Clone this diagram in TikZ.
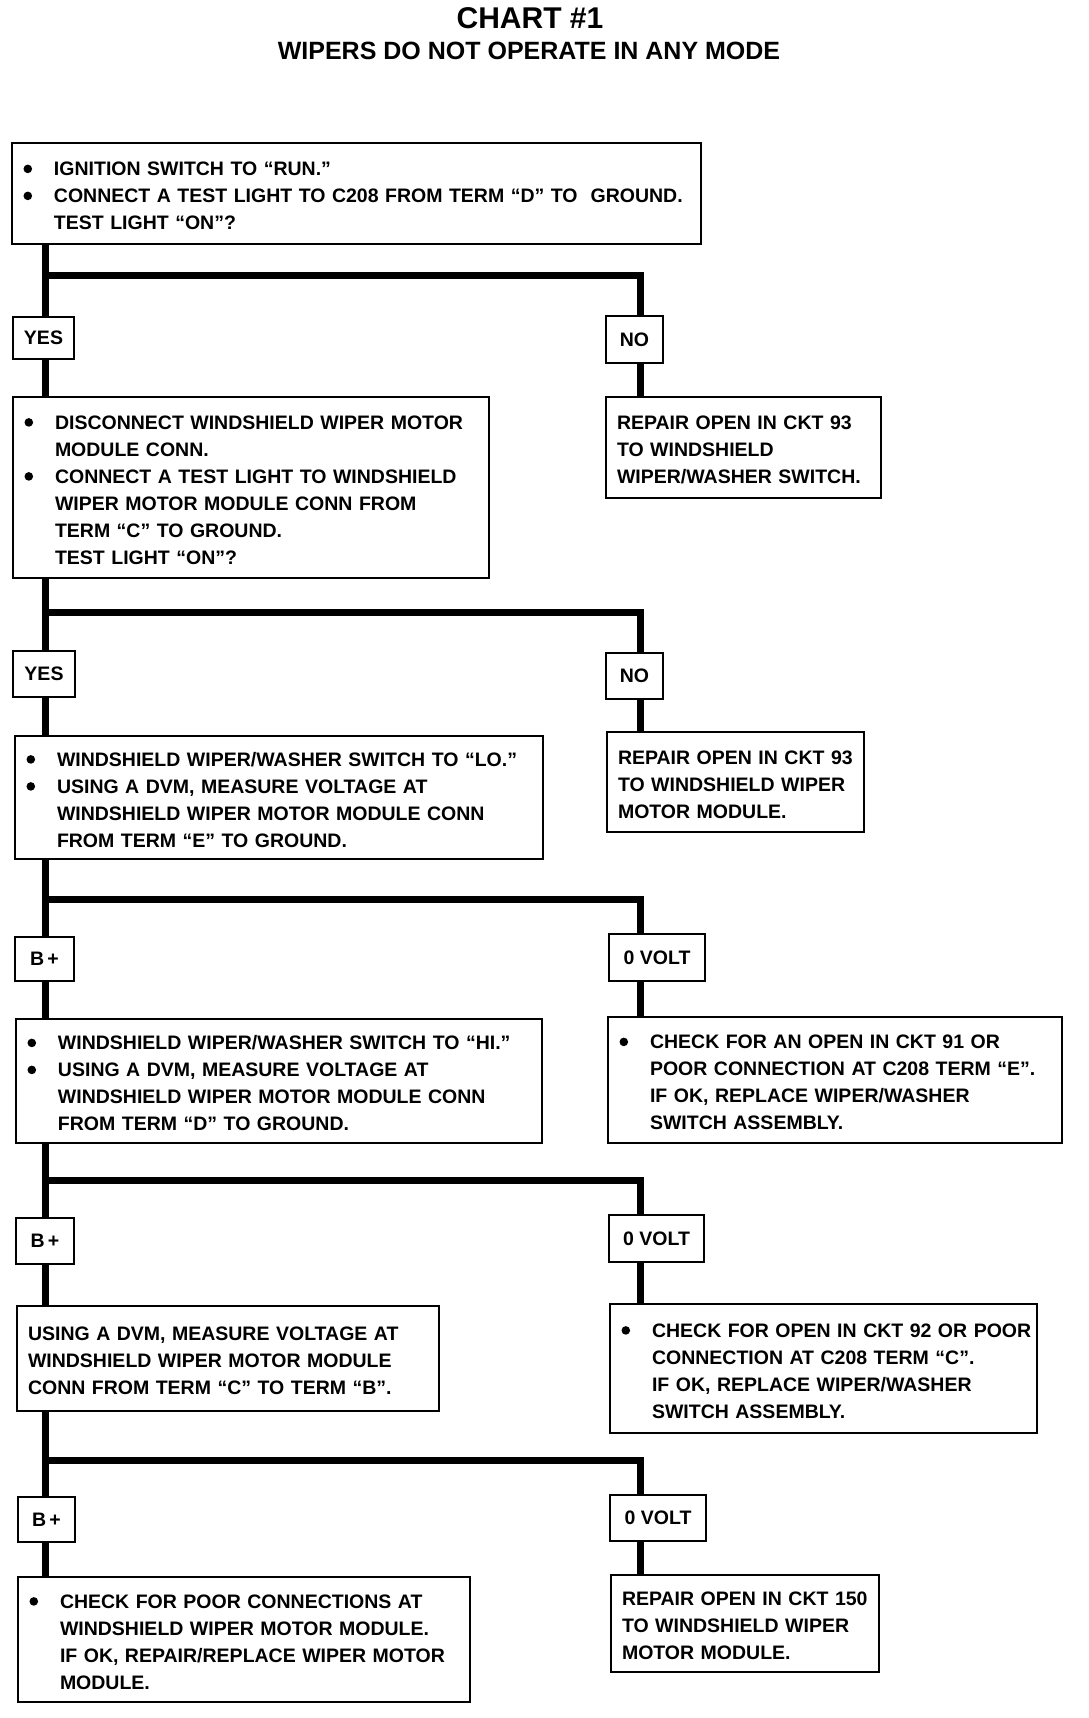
\documentclass[tikz,border=0pt]{standalone}
\usepackage{fontspec}
\setmainfont{Liberation Sans}
\usepackage{tikz}

\newcommand{\boxfont}{\fontsize{19.5}{27}\selectfont\bfseries}
\newcommand{\bul}{\makebox[31pt][l]{\hspace{0.5pt}\tikz[baseline=-7pt]\fill (4.3pt,0) circle (4.3pt);}}
\newcommand{\ind}{\hspace*{31pt}}
\newcommand{\boxlines}[1]{\raisebox{-4pt}[\height][\depth]{\begin{tabular}{@{}l@{}}#1\end{tabular}}}

\tikzset{
  box/.style={draw,line width=2pt,anchor=north west,align=left,inner xsep=11pt,inner ysep=0pt,font=\boxfont},
  lbl/.style={draw,line width=2pt,anchor=north west,align=center,inner sep=0pt,font=\boxfont},
  trunk/.style={line width=7pt},
}

\begin{document}
\begin{tikzpicture}[x=1pt,y=-1pt]
		\useasboundingbox (0,0) rectangle (1088,1718);
		% title
		\node[font=\fontsize{30}{30}\selectfont\bfseries] (title) at (530,18) {CHART \#1};
		\node[font=\fontsize{25}{25}\selectfont\bfseries] (subtitle) at (529,51) {WIPERS DO NOT OPERATE IN ANY MODE};
		% left column
		\node[box,text width=667pt,minimum height=101pt] (b1) at (11,142) {\boxlines{\bul IGNITION SWITCH TO ``RUN.''\\ \bul CONNECT A TEST LIGHT TO C208 FROM TERM ``D'' TO\ \ GROUND.\\ \ind TEST LIGHT ``ON''?}};
		\node[lbl,minimum width=61pt,minimum height=42pt] (yes1) at (12,316) {YES};
		\node[box,text width=454pt,minimum height=181pt] (b2) at (12,396) {\boxlines{\bul DISCONNECT WINDSHIELD WIPER MOTOR\\ \ind MODULE CONN.\\ \bul CONNECT A TEST LIGHT TO WINDSHIELD\\ \ind WIPER MOTOR MODULE CONN FROM\\ \ind TERM ``C'' TO GROUND.\\ \ind TEST LIGHT ``ON''?}};
		\node[lbl,minimum width=62pt,minimum height=46pt] (yes2) at (12,650) {YES};
		\node[box,text width=506pt,minimum height=123pt] (b3) at (14,735) {\boxlines{\bul WINDSHIELD WIPER/WASHER SWITCH TO ``LO.''\\ \bul USING A DVM, MEASURE VOLTAGE AT\\ \ind WINDSHIELD WIPER MOTOR MODULE CONN\\ \ind FROM TERM ``E'' TO GROUND.}};
		\node[lbl,minimum width=59pt,minimum height=44pt] (bp1) at (14,936) {B\,+};
		\node[box,text width=504pt,minimum height=124pt] (b4) at (15,1018) {\boxlines{\bul WINDSHIELD WIPER/WASHER SWITCH TO ``HI.''\\ \bul USING A DVM, MEASURE VOLTAGE AT\\ \ind WINDSHIELD WIPER MOTOR MODULE CONN\\ \ind FROM TERM ``D'' TO GROUND.}};
		\node[lbl,minimum width=58pt,minimum height=46pt] (bp2) at (15,1217) {B\,+};
		\node[box,text width=400pt,minimum height=105pt] (b5) at (16,1305) {\boxlines{USING A DVM, MEASURE VOLTAGE AT\\ WINDSHIELD WIPER MOTOR MODULE\\ CONN FROM TERM ``C'' TO TERM ``B''.}};
		\node[lbl,minimum width=57pt,minimum height=45pt] (bp3) at (17,1496) {B\,+};
		\node[box,text width=430pt,minimum height=125pt] (b6) at (17,1576) {\boxlines{\bul CHECK FOR POOR CONNECTIONS AT\\ \ind WINDSHIELD WIPER MOTOR MODULE.\\ \ind IF OK, REPAIR/REPLACE WIPER MOTOR\\ \ind MODULE.}};
		% right column
		\node[lbl,minimum width=57pt,minimum height=47pt] (no1) at (605,315) {NO};
		\node[box,text width=253pt,minimum height=101pt] (r1) at (605,396) {\boxlines{REPAIR OPEN IN CKT 93\\ TO WINDSHIELD\\ WIPER/WASHER SWITCH.}};
		\node[lbl,minimum width=57pt,minimum height=46pt] (no2) at (605,652) {NO};
		\node[box,text width=235pt,minimum height=100pt] (r2) at (606,731) {\boxlines{REPAIR OPEN IN CKT 93\\ TO WINDSHIELD WIPER\\ MOTOR MODULE.}};
		\node[lbl,minimum width=96pt,minimum height=47pt] (v1) at (608,933) {0 VOLT};
		\node[box,text width=432pt,minimum height=126pt] (r4) at (607,1016) {\boxlines{\bul CHECK FOR AN OPEN IN CKT 91 OR\\ \ind POOR CONNECTION AT C208 TERM ``E''.\\ \ind IF OK, REPLACE WIPER/WASHER\\ \ind SWITCH ASSEMBLY.}};
		\node[lbl,minimum width=95pt,minimum height=47pt] (v2) at (608,1214) {0 VOLT};
		\node[box,text width=405pt,minimum height=129pt] (r5) at (609,1303) {\boxlines{\bul CHECK FOR OPEN IN CKT 92 OR POOR\\ \ind CONNECTION AT C208 TERM ``C''.\\ \ind IF OK, REPLACE WIPER/WASHER\\ \ind SWITCH ASSEMBLY.}};
		\node[lbl,minimum width=96pt,minimum height=46pt] (v3) at (609,1494) {0 VOLT};
		\node[box,text width=246pt,minimum height=97pt] (r6) at (610,1574) {\boxlines{REPAIR OPEN IN CKT 150\\ TO WINDSHIELD WIPER\\ MOTOR MODULE.}};
		% connectors
		\coordinate (tx) at (45,0);
		\coordinate (rx) at (640,0);
		\foreach \y [count=\i] in {275,612,899,1180,1460}
			\coordinate (j\i) at (45,\y);
		\foreach \a/\b in {b1/yes1,yes1/b2,b2/yes2,yes2/b3,b3/bp1,bp1/b4,b4/bp2,bp2/b5,b5/bp3,bp3/b6}
			\draw[trunk] (\a.south -| tx) -- (\b.north -| tx);
		\foreach \j/\l/\r in {j1/no1/r1,j2/no2/r2,j3/v1/r4,j4/v2/r5,j5/v3/r6}{
			\draw[trunk] (\j) -| (\l.north -| rx);
			\draw[trunk] (\l.south -| rx) -- (\r.north -| rx);
		}
	\end{tikzpicture}
\end{document}
